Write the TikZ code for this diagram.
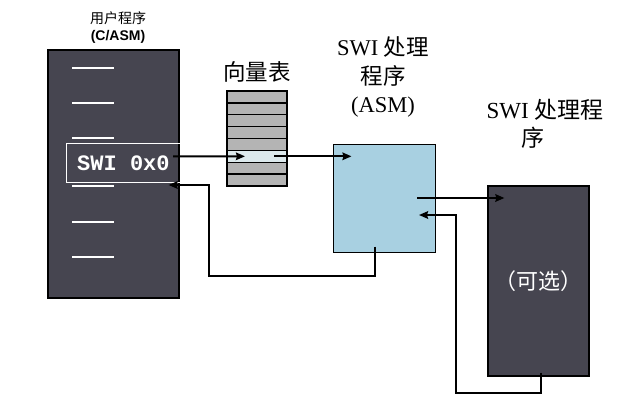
\documentclass[tikz,border=0pt]{standalone}
\usepackage{fontspec}
\setmainfont{Liberation Serif}
\setsansfont{Liberation Sans}
\setmonofont{Liberation Mono}
\newfontfamily\cjk{Noto Sans CJK SC}
\usepackage{tikz}
\usetikzlibrary{arrows.meta,positioning,calc}
\definecolor{slate}{RGB}{70,69,80}
\definecolor{skyfill}{RGB}{168,208,225}
\definecolor{rowgray}{RGB}{180,180,180}
\definecolor{rowhi}{RGB}{220,233,236}

\begin{document}
\begin{tikzpicture}[x=1pt,y=-1pt,
    darkbox/.style={draw=black, line width=1.2pt, fill=slate, inner sep=0pt},
    asmbox/.style={draw=black, line width=1pt, fill=skyfill, inner sep=0pt},
    vtrow/.style={draw=black, line width=1.4pt, minimum width=60pt, minimum height=11.875pt, inner sep=0pt},
    tick/.style={white, line width=2pt},
    arr/.style={line width=2.1pt, -{Stealth[length=9pt,width=7.5pt,inset=1pt]}},
    lbl/.style={align=center, font=\fontsize{22.5}{28.5}\selectfont}]
  \useasboundingbox (0,0) rectangle (635,402);

  % user program
  \node[darkbox, minimum width=131pt, minimum height=248pt] (user) at (113.5,174) {};
  \foreach \y in {68,103,138,186,222,257}
    \draw[tick] (72,\y) -- (114,\y);
  \node[draw=white, line width=0.8pt, minimum width=114pt, minimum height=39pt, inner sep=0pt] (swi) at (123,162.5) {};
  \node[anchor=west, inner sep=0pt, text=white, font=\fontsize{22}{24}\selectfont\ttfamily\bfseries] (switxt) at (77,163) {SWI 0x0};
  \node[align=center, font=\fontsize{14}{17}\selectfont\sffamily] (userlbl) at (118,28) {{\cjk 用户程序}\\\bfseries (C/ASM)};

  % vector table
  \foreach \i/\c in {1/rowgray,2/rowgray,3/rowgray,4/rowgray,5/rowgray,6/rowhi,7/rowgray,8/rowgray}
    \node[vtrow, fill=\c] (vt\i) at (257,{91+(\i-0.5)*11.875}) {};
  \node[lbl] (vtlbl) at (257,72) {\cjk 向量表};

  % SWI handlers
  \node[asmbox, minimum width=102pt, minimum height=108pt] (asm) at (384,198) {};
  \node[lbl] (asmlbl) at (383,77) {SWI {\cjk 处理}\\{\cjk 程序}\\(ASM)};
  \node[darkbox, minimum width=101pt, minimum height=190pt, text=white, font=\fontsize{22}{24}\selectfont\cjk] (opt) at (538.5,281) {（可选）};
  \node[lbl, font=\fontsize{23}{28}\selectfont] (optlbl) at (545,124) {SWI {\cjk 处理程}\\\hspace*{-24pt}{\cjk 序}};

  % connectors
  \coordinate (callout) at (173,156.3);
  \coordinate (asmloop) at (209,276);
  \coordinate (optloop) at (456,393);
  \draw[arr] (callout) -- ($(vt6.center)+(-12,0)$);
  \draw[arr] ($(vt6.center)+(17,0)$) -- ($(asm.west |- vt6.center)+(19,0)$);
  \draw[arr] ($(asm.center)+(33,0)$) -- ($(opt.west |- asm.center)+(17,0)$);
  \draw[arr] ($(opt.south)+(2.5,-4)$) |- (optloop) |- ($(asm.center)+(35,17)$);
  \draw[arr] ($(asm.south)+(-9,-6)$) |- (asmloop) |- ($(user.east)+(-11,11)$);
\end{tikzpicture}
\end{document}
